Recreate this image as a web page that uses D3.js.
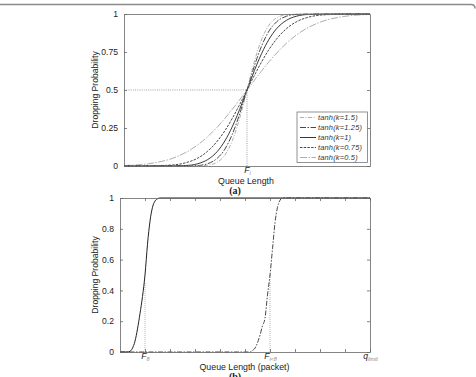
<!DOCTYPE html>
<html><head><meta charset="utf-8">
<script src="https://cdn.jsdelivr.net/npm/d3@7/dist/d3.min.js"></script>
<style>body{margin:0;background:#fff}svg{display:block}</style>
</head><body>
<svg id="c" width="476" height="377"></svg>
<script>
// ---------- data: panel (a) ----------
const queueA = [0,10,20,25,30,34,38,41,44,46,48,50,52,54,56,59,62,66,70,75,80,90,100]; // F_i = 50
const seriesNamesA = ["tanh(k=1.5)","tanh(k=1.25)","tanh(k=1)","tanh(k=0.75)","tanh(k=0.5)"];
const pK15  = [0,0,0,0,0.001,0.005,0.026,0.072,0.165,0.258,0.373,0.5,0.627,0.742,0.835,0.928,0.974,0.995,0.999,1,1,1,1];
const pK125 = [0,0,0,0,0.003,0.015,0.052,0.111,0.208,0.294,0.393,0.5,0.607,0.706,0.792,0.889,0.948,0.985,0.997,1,1,1,1];
const pK1   = [0,0,0.001,0.003,0.015,0.042,0.097,0.165,0.258,0.332,0.414,0.5,0.586,0.668,0.742,0.835,0.903,0.958,0.985,0.997,0.999,1,1];
const pK075 = [0,0.001,0.007,0.021,0.052,0.097,0.165,0.232,0.313,0.373,0.435,0.5,0.565,0.627,0.687,0.768,0.835,0.903,0.948,0.979,0.993,0.999,1];
const pK05  = [0.003,0.015,0.052,0.088,0.139,0.193,0.258,0.313,0.373,0.414,0.457,0.5,0.543,0.586,0.627,0.687,0.742,0.807,0.861,0.912,0.948,0.985,0.997];
const yTicksA = [0,0.25,0.5,0.75,1];
const yTickLabelsA = ["0","0.25","0.5","0.75","1"];
const fiA = 50;
const xTicksA = [50]; const xTickMainA = ["F"]; const xTickSubA = ["i"];

// ---------- data: panel (b) ----------
const queueB1 = [0,0.3,0.4,0.5,0.6,0.7,0.8,0.9,1.0,1.1,1.2,1.3,1.4,1.5,1.6,10];
const probB1  = [0,0,0.005,0.025,0.07,0.15,0.25,0.36,0.5,0.7,0.85,0.94,0.98,0.995,1,1];
const queueB2 = [0,5.2,5.3,5.4,5.5,5.6,5.7,5.8,5.9,6.0,6.1,6.2,6.3,6.4,6.5,10];
const probB2  = [0,0,0.01,0.025,0.06,0.11,0.17,0.22,0.37,0.5,0.67,0.84,0.94,0.985,1,1];
const markerXB = [1,6];
const markerTopB = [0.45,0.5];
const yTicksB = [0,0.2,0.4,0.6,0.8,1];
const yTickLabelsB = ["0","0.2","0.4","0.6","0.8","1"];
const xTicksB = [1,2,3,4,5,6,7,8,9,10];
const xTickMainB = {1:"F",6:"F",10:"q"};
const xTickSubB = {1:"8",6:"i<8",10:"limit"};

const svg = d3.select("#c");
const FONT = "'Liberation Sans', Arial, sans-serif";

// top border of the card
svg.append("path").attr("d","M0,4.5H471Q475,4.5 475,8.5").attr("fill","none")
  .attr("stroke","#8a8a8a").attr("stroke-width",1.5);

function styleAxis(g){
  g.attr("font-family",FONT).attr("font-size",8.6);
  g.selectAll(".domain").attr("stroke","#666").attr("stroke-width",0.8);
  g.selectAll(".tick line").attr("stroke","#666").attr("stroke-width",0.8);
  g.selectAll(".tick text").attr("fill","#222");
}
function subLabels(g, mainOf, subOf){
  g.selectAll(".tick text").each(function(d){
    const t = d3.select(this); t.text(null);
    const m = mainOf(d); if(!m) return;
    t.append("tspan").attr("font-style","italic").attr("font-size",8.6).text(m);
    t.append("tspan").attr("font-style","italic").attr("font-size",5.5).attr("fill","#888")
      .attr("dy",2).text(subOf(d));
  });
}

// ================= panel (a) =================
const A = {l:124, r:370, t:14, b:166};
const xA = d3.scaleLinear().domain([0,100]).range([A.l,A.r]);
const yA = d3.scaleLinear().domain([0,1]).range([A.b,A.t]);
const gA = svg.append("g");

// dotted guides
gA.append("line").attr("x1",xA(0)).attr("x2",xA(fiA)).attr("y1",yA(0.5)).attr("y2",yA(0.5))
  .attr("stroke","#777").attr("stroke-width",0.7).attr("stroke-dasharray","1,1.2");
gA.append("line").attr("x1",xA(fiA)).attr("x2",xA(fiA)).attr("y1",yA(0)).attr("y2",yA(0.5))
  .attr("stroke","#777").attr("stroke-width",0.7).attr("stroke-dasharray","1,1.2");

const stylesA = [
  {c:"#9a9a9a", w:0.8, d:"4,1.5,1,1.5"},
  {c:"#333", w:0.9, d:"6,1.5,1.5,1.5"},
  {c:"#222", w:0.9, d:null},
  {c:"#333", w:0.9, d:"2.5,1.2"},
  {c:"#8a8a8a", w:0.7, d:"7,1.5,1.5,1.5"}
];
const dataA = [pK15,pK125,pK1,pK075,pK05];
const lineA = d3.line().x(d=>xA(d[0])).y(d=>yA(d[1])).curve(d3.curveMonotoneX);
dataA.slice().reverse().forEach((arr,ri)=>{
  const i = dataA.length-1-ri;
  gA.append("path").datum(queueA.map((q,j)=>[q,arr[j]])).attr("d",lineA)
    .attr("fill","none").attr("stroke",stylesA[i].c).attr("stroke-width",stylesA[i].w)
    .attr("stroke-dasharray",stylesA[i].d);
});

// box + axes
const axLA = gA.append("g").attr("transform",`translate(${A.l},0)`)
  .call(d3.axisLeft(yA).tickValues(yTicksA).tickFormat((d,i)=>yTickLabelsA[i]).tickSize(-3).tickSizeOuter(0).tickPadding(6));
styleAxis(axLA);
const axRA = gA.append("g").attr("transform",`translate(${A.r},0)`)
  .call(d3.axisRight(yA).tickValues(yTicksA).tickFormat("").tickSize(-3).tickSizeOuter(0));
styleAxis(axRA);
const axBA = gA.append("g").attr("transform",`translate(0,${A.b})`)
  .call(d3.axisBottom(xA).tickValues(xTicksA).tickSize(0).tickSizeOuter(0).tickPadding(1));
styleAxis(axBA);
subLabels(axBA, d=>xTickMainA[xTicksA.indexOf(d)], d=>xTickSubA[xTicksA.indexOf(d)]);
const axTA = gA.append("g").attr("transform",`translate(0,${A.t})`)
  .call(d3.axisTop(xA).tickValues([]).tickSizeOuter(0));
styleAxis(axTA);

gA.append("text").attr("x",246).attr("y",183.5).attr("text-anchor","middle")
  .attr("font-family",FONT).attr("font-size",8.8).attr("fill","#222").text("Queue Length");
gA.append("text").attr("x",235).attr("y",194).attr("text-anchor","middle")
  .attr("font-family","'Liberation Serif', 'Times New Roman', serif").attr("font-weight","bold")
  .attr("font-size",10).attr("fill","#222").text("(a)");
gA.append("text").attr("transform",`translate(97.5,${(A.t+A.b)/2}) rotate(-90)`).attr("text-anchor","middle")
  .attr("font-family",FONT).attr("font-size",8.6).attr("fill","#222").text("Dropping Probability");

// legend
const leg = gA.append("g");
leg.append("rect").attr("x",297).attr("y",112).attr("width",70.5).attr("height",50.5)
  .attr("fill","#fff").attr("stroke","#777").attr("stroke-width",0.8);
seriesNamesA.forEach((n,i)=>{
  const y = 117.5 + i*10;
  leg.append("line").attr("x1",300).attr("x2",316).attr("y1",y).attr("y2",y)
    .attr("stroke",stylesA[i].c).attr("stroke-width",stylesA[i].w).attr("stroke-dasharray",stylesA[i].d);
  leg.append("text").attr("x",318).attr("y",y+2.7).attr("font-family",FONT).attr("font-style","italic")
    .attr("font-size",7.4).attr("letter-spacing",0.2).attr("fill","#333").text(n);
});

// ================= panel (b) =================
const B = {l:120, r:370, t:198, b:352};
const xB = d3.scaleLinear().domain([0,10]).range([B.l,B.r]);
const yB = d3.scaleLinear().domain([0,1]).range([B.b,B.t]);
const gB = svg.append("g");

markerXB.forEach((m,i)=>{
  gB.append("line").attr("x1",xB(m)).attr("x2",xB(m)).attr("y1",yB(0)).attr("y2",yB(markerTopB[i]))
    .attr("stroke","#e07070").attr("stroke-width",0.7).attr("stroke-dasharray","1,1");
});
const lineB = d3.line().x(d=>xB(d[0])).y(d=>yB(d[1])).curve(d3.curveMonotoneX);
gB.append("path").datum(queueB2.map((q,j)=>[q,probB2[j]])).attr("d",lineB)
  .attr("fill","none").attr("stroke","#333").attr("stroke-width",0.9).attr("stroke-dasharray","5,1.5,1.5,1.5");
gB.append("path").datum(queueB1.map((q,j)=>[q,probB1[j]])).attr("d",lineB)
  .attr("fill","none").attr("stroke","#222").attr("stroke-width",1);

const axLB = gB.append("g").attr("transform",`translate(${B.l},0)`)
  .call(d3.axisLeft(yB).tickValues(yTicksB).tickFormat((d,i)=>yTickLabelsB[i]).tickSize(-3).tickSizeOuter(0).tickPadding(6));
styleAxis(axLB);
const axRB = gB.append("g").attr("transform",`translate(${B.r},0)`)
  .call(d3.axisRight(yB).tickValues(yTicksB).tickFormat("").tickSize(-3).tickSizeOuter(0));
styleAxis(axRB);
const axBB = gB.append("g").attr("transform",`translate(0,${B.b})`)
  .call(d3.axisBottom(xB).tickValues(xTicksB).tickSize(-3).tickSizeOuter(0).tickPadding(1));
styleAxis(axBB);
subLabels(axBB, d=>xTickMainB[d], d=>xTickSubB[d]);
const axTB = gB.append("g").attr("transform",`translate(0,${B.t})`)
  .call(d3.axisTop(xB).tickValues(xTicksB).tickFormat("").tickSize(-3).tickSizeOuter(0));
styleAxis(axTB);

gB.append("text").attr("x",244.5).attr("y",369.5).attr("text-anchor","middle")
  .attr("font-family",FONT).attr("font-size",8.8).attr("fill","#222").text("Queue Length (packet)");
gB.append("text").attr("x",235).attr("y",379.5).attr("text-anchor","middle")
  .attr("font-family","'Liberation Serif', 'Times New Roman', serif").attr("font-weight","bold")
  .attr("font-size",10).attr("fill","#222").text("(b)");
gB.append("text").attr("transform",`translate(97.5,${(B.t+B.b)/2}) rotate(-90)`).attr("text-anchor","middle")
  .attr("font-family",FONT).attr("font-size",8.6).attr("fill","#222").text("Dropping Probability");
</script>
</body></html>
